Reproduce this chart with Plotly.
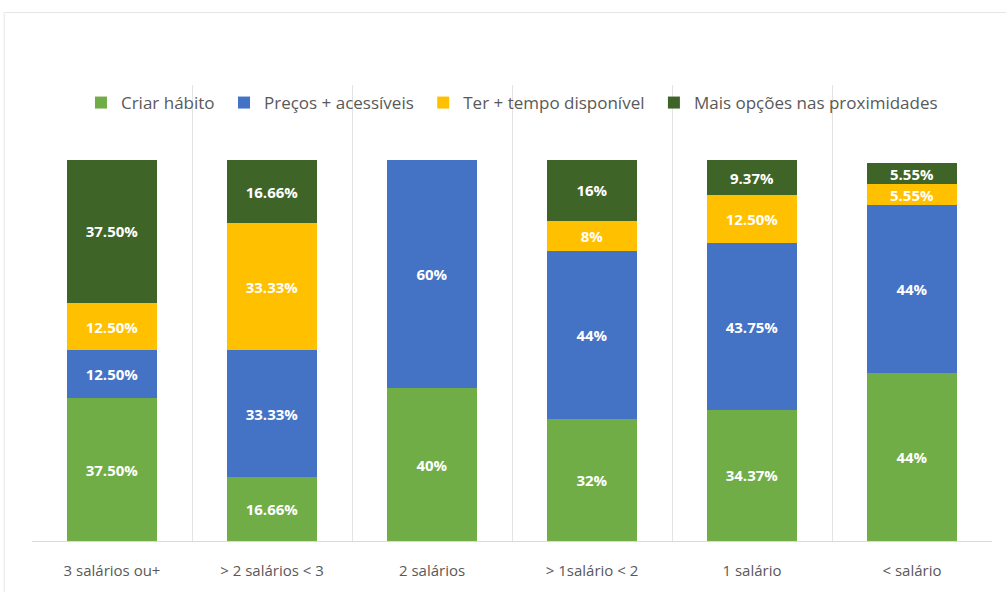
import plotly.graph_objects as go

categories = ["3 salários ou+", "> 2 salários < 3", "2 salários", "> 1salário < 2", "1 salário", "< salário"]
criar_habito = [37.50, 16.66, 40, 32, 34.37, 44]
precos = [12.50, 33.33, 60, 44, 43.75, 44]
tempo = [12.50, 33.33, 0, 8, 12.50, 5.55]
opcoes = [37.50, 16.66, 0, 16, 9.37, 5.55]

labels_criar = ["37.50%", "16.66%", "40%", "32%", "34.37%", "44%"]
labels_precos = ["12.50%", "33.33%", "60%", "44%", "43.75%", "44%"]
labels_tempo = ["12.50%", "33.33%", "", "8%", "12.50%", "5.55%"]
labels_opcoes = ["37.50%", "16.66%", "", "16%", "9.37%", "5.55%"]

series = [
    ("Criar hábito", criar_habito, labels_criar, "#70AD47"),
    ("Preços + acessíveis", precos, labels_precos, "#4472C4"),
    ("Ter + tempo disponível", tempo, labels_tempo, "#FFC000"),
    ("Mais opções nas proximidades", opcoes, labels_opcoes, "#3F6428"),
]

pad = "\u00a0"
fig = go.Figure()
for name, vals, labs, col in series:
    fig.add_trace(go.Bar(
        x=categories, y=vals, name=name + pad, text=labs,
        marker=dict(color=col, line=dict(width=0)),
        textposition="inside", insidetextanchor="middle", textangle=0,
        textfont=dict(color="white", size=15, family="Open Sans", weight="bold"),
        width=0.5625, hoverinfo="skip",
    ))

fig.update_layout(
    barmode="stack",
    width=1006, height=592,
    margin=dict(l=32, r=14, t=85, b=49),
    paper_bgcolor="white", plot_bgcolor="white",
    uniformtext=dict(minsize=15, mode="show"),
    font=dict(family="Open Sans", color="#595959"),
    legend=dict(
        orientation="h", x=0.051, y=1.0, xanchor="left", yanchor="top",
        font=dict(size=17, color="#595959", family="Open Sans"),
        itemwidth=30, bgcolor="rgba(255,255,255,0)", traceorder="normal",
    ),
    showlegend=True,
    xaxis=dict(
        type="category", tickson="boundaries", showgrid=True,
        gridcolor="#E3E3E3", gridwidth=1, ticks="",
        showline=True, linecolor="#D9D9D9", linewidth=1,
        tickfont=dict(size=15, color="#595959", family="Open Sans"),
        ticklabelstandoff=16,
        range=[-0.5, 5.5],
    ),
    yaxis=dict(range=[0, 119.6], visible=False, showgrid=False, zeroline=False),
    shapes=[dict(type="rect", xref="paper", yref="paper",
                 x0=-0.029, x1=1.2, y0=-0.2, y1=1.159,
                 line=dict(color="#E6E6E6", width=1), fillcolor="rgba(0,0,0,0)",
                 layer="below")],
)

fig.write_html("out.html")
